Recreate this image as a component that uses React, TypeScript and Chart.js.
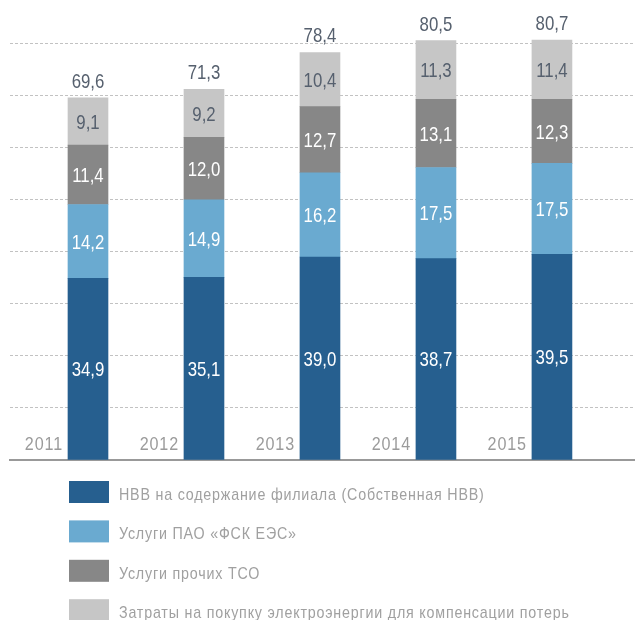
import React, { useEffect, useRef } from "react";
import { Chart, registerables } from "chart.js";

Chart.register(...registerables);

const years = [2011, 2012, 2013, 2014, 2015];
const nvv = [34.9, 35.1, 39.0, 38.7, 39.5];
const fsk = [14.2, 14.9, 16.2, 17.5, 17.5];
const tso = [11.4, 12.0, 12.7, 13.1, 12.3];
const losses = [9.1, 9.2, 10.4, 11.3, 11.4];
const totals = [69.6, 71.3, 78.4, 80.5, 80.7];

const seriesNames = [
  "НВВ на содержание филиала (Собственная НВВ)",
  "Услуги ПАО «ФСК ЕЭС»",
  "Услуги прочих ТСО",
  "Затраты на покупку электроэнергии для компенсации потерь",
];
const seriesColors = ["#265f8f", "#6aaad0", "#878787", "#c6c6c6"];
const labelColors = ["#ffffff", "#ffffff", "#ffffff", "#56606e"];

const FONT = '"Liberation Sans", Arial, sans-serif';
const SLATE = "#56606e";

const fmt = (v: number) => v.toFixed(1).replace(".", ",");

// draws real text, horizontally condensed
function condensedText(ctx: any, text: string, x: number, y: number, sx: number) {
  ctx.save();
  ctx.translate(x, y);
  ctx.scale(sx, 1);
  ctx.fillText(text, 0, 0);
  ctx.restore();
}

const labelPlugin = {
  id: "customLabels",
  afterDatasetsDraw(chart: any) {
    const { ctx, chartArea } = chart;
    ctx.save();
    // segment values
    ctx.textAlign = "center";
    ctx.textBaseline = "middle";
    ctx.font = `21px ${FONT}`;
    chart.data.datasets.forEach((ds: any, di: number) => {
      const meta = chart.getDatasetMeta(di);
      meta.data.forEach((bar: any, i: number) => {
        const { x, y, base } = bar.getProps(["x", "y", "base"], true);
        ctx.fillStyle = labelColors[di];
        condensedText(ctx, fmt(ds.data[i]), x, (y + base) / 2 + 1.5, 0.8);
      });
    });
    // totals
    const last = chart.getDatasetMeta(chart.data.datasets.length - 1);
    ctx.textBaseline = "alphabetic";
    ctx.fillStyle = SLATE;
    last.data.forEach((bar: any, i: number) => {
      condensedText(ctx, fmt(totals[i]), bar.x, bar.y - 10, 0.8);
    });
    // year labels
    ctx.textAlign = "right";
    ctx.fillStyle = "#9b9b9b";
    ctx.font = `19px ${FONT}`;
    ctx.letterSpacing = "1px";
    last.data.forEach((bar: any, i: number) => {
      condensedText(ctx, String(chart.data.labels[i]), bar.x - bar.width / 2 - 5, chartArea.bottom - 10.5, 0.85);
    });
    // legend
    ctx.textAlign = "left";
    ctx.font = `17px ${FONT}`;
    ctx.letterSpacing = "0.95px";
    chart.data.datasets.forEach((ds: any, di: number) => {
      const top = chartArea.bottom + 21 + di * 39.4;
      const left = chartArea.left + 59;
      ctx.fillStyle = ds.backgroundColor;
      ctx.fillRect(left, top, 40, 22);
      ctx.fillStyle = "#a0a0a0";
      condensedText(ctx, ds.label, left + 50, top + 19, 0.84);
    });
    ctx.restore();
  },
};

export default function App() {
  const ref = useRef<HTMLCanvasElement | null>(null);

  useEffect(() => {
    if (!ref.current) return;
    const data = [nvv, fsk, tso, losses];
    const chart = new Chart(ref.current, {
      type: "bar",
      data: {
        labels: years,
        datasets: data.map((d, i) => ({
          label: seriesNames[i],
          data: d,
          backgroundColor: seriesColors[i],
          borderWidth: 0,
          barThickness: 40,
        })),
      },
      options: {
        animation: false,
        responsive: true,
        maintainAspectRatio: false,
        layout: { padding: { left: 10, right: 0, top: 2, bottom: 160 } },
        plugins: { legend: { display: false }, tooltip: { enabled: false } },
        scales: {
          x: {
            type: "linear",
            stacked: true,
            offset: false,
            bounds: "data",
            min: 2010.3276,
            max: 2015.716,
            ticks: { display: false },
            grid: { display: false, drawTicks: false, offset: false },
            border: { display: true, color: "#999999", width: 2 },
          },
          y: {
            stacked: true,
            min: 0,
            max: 88,
            ticks: { display: false, stepSize: 10 },
            grid: {
              drawTicks: false,
              color: (c: any) =>
                c.tick && (c.tick.value === 0 || c.tick.value > 80) ? "rgba(0,0,0,0)" : "#c2c2c2",
              lineWidth: 1,
            },
            border: { display: false, dash: [3, 2] },
          },
        },
      },
      plugins: [labelPlugin],
    });
    return () => chart.destroy();
  }, []);

  return (
    <div style={{ position: "absolute", left: 0, top: 0, width: 635, height: 620 }}>
      <canvas ref={ref} />
    </div>
  );
}
